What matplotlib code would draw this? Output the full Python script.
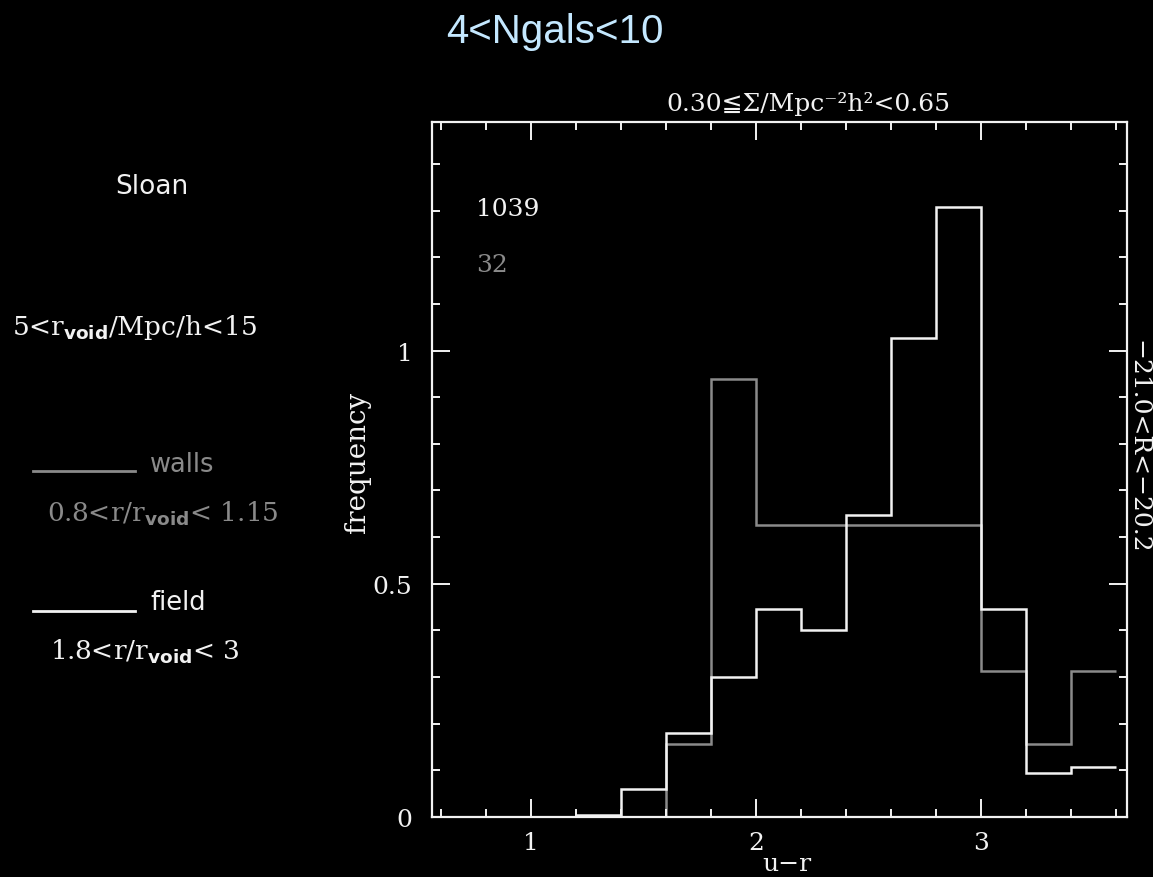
import matplotlib
matplotlib.use("Agg")
import matplotlib.pyplot as plt
from matplotlib.ticker import MultipleLocator

# ---- data ----
bin_edges = [1.2, 1.4, 1.6, 1.8, 2.0, 2.2, 2.4, 2.6, 2.8, 3.0, 3.2, 3.4, 3.6]
field_freq = [0.005, 0.06, 0.18, 0.30, 0.445, 0.40, 0.647, 1.026, 1.308, 0.445, 0.094, 0.107]
walls_freq = [0.0, 0.0, 0.156, 0.938, 0.625, 0.625, 0.625, 0.625, 0.625, 0.3125, 0.156, 0.3125]
x_ticks = [1, 2, 3]
x_tick_labels = ["1", "2", "3"]
y_ticks = [0, 0.5, 1]
y_tick_labels = ["0", "0.5", "1"]
n_field = "1039"
n_walls = "32"

W, H = 1153, 878
plt.rcParams['mathtext.fontset'] = 'custom'
plt.rcParams['mathtext.rm'] = 'DejaVu Serif'
plt.rcParams['mathtext.bf'] = 'DejaVu Sans:bold'

SERIF = ['DejaVu Serif', 'DejaVu Sans']
SANS = ['DejaVu Sans']
WHITE = '#f2f2f2'
GRAY = '#8a8a8a'
FS = 18

fig = plt.figure(figsize=(W / 100, H / 100), dpi=100, facecolor='black')

def fx(px):
    return px / W

def fy(py):
    return 1 - py / H

ax = fig.add_axes([fx(432), fy(818), fx(1127) - fx(432), fy(123) - fy(818)])
ax.set_facecolor('black')
ax.stairs(walls_freq, bin_edges, baseline=None, color=GRAY, lw=1.8)
ax.stairs(field_freq, bin_edges, baseline=None, color=WHITE, lw=1.8)
ax.set_xlim(0.56, 3.65)
ax.set_ylim(0, 1.49)

for s in ax.spines.values():
    s.set_color(WHITE)
    s.set_linewidth(1.6)

ax.set_xticks(x_ticks)
ax.set_xticklabels(x_tick_labels)
ax.set_yticks(y_ticks)
ax.set_yticklabels(y_tick_labels)
ax.xaxis.set_minor_locator(MultipleLocator(0.2))
ax.yaxis.set_minor_locator(MultipleLocator(0.1))
ax.tick_params(which='both', direction='in', top=True, right=True, colors=WHITE, width=1.4)
ax.tick_params(which='major', length=13)
ax.tick_params(which='minor', length=6)
ax.tick_params(axis='y', which='major', pad=14)
ax.tick_params(axis='x', which='major', pad=10)
for lab in ax.get_xticklabels() + ax.get_yticklabels():
    lab.set_family(SERIF)
    lab.set_fontsize(FS)
    lab.set_color(WHITE)

# axis labels
fig.text(fx(787), fy(865), 'u\u2212r', family=SERIF, fontsize=FS, color=WHITE, ha='center', va='center')
fig.text(fx(357), fy(462), 'frequency', family=SERIF, fontsize=20, color=WHITE, ha='center', va='center', rotation=90)
fig.text(fx(808), fy(104), '0.30\u2266\u03a3/Mpc\u207b\u00b2h\u00b2<0.65', family=SERIF, fontsize=FS,
         color=WHITE, ha='center', va='center')
fig.text(fx(1138), fy(447), '\u221221.0<R<\u221220.2', family=SERIF, fontsize=FS, color=WHITE,
         ha='center', va='center', rotation=-90)

# counts
fig.text(fx(476), fy(210), n_field, family=SERIF, fontsize=FS, color=WHITE, ha='left', va='center')
fig.text(fx(476), fy(265), n_walls, family=SERIF, fontsize=FS, color=GRAY, ha='left', va='center')

# title
fig.text(fx(555), fy(32), '4<Ngals<10', family=['Liberation Sans', 'DejaVu Sans'], fontsize=29,
         color='#c4e8ff', ha='center', va='center')

# left annotations
fig.text(fx(152), fy(187), 'Sloan', family=SANS, fontsize=19, color=WHITE, ha='center', va='center')
fig.text(fx(12), fy(328), r'5<$\mathrm{r}_{\mathbf{void}}$/Mpc/h<15', family=SERIF, fontsize=19,
         color=WHITE, ha='left', va='center')

fig.add_artist(plt.Line2D([fx(33), fx(135)], [fy(472), fy(472)], color=GRAY, lw=2,
                          transform=fig.transFigure))
fig.text(fx(150), fy(465), 'walls', family=SANS, fontsize=18.5, color=GRAY, ha='left', va='center')
fig.text(fx(47), fy(514), r'0.8<r/$\mathrm{r}_{\mathbf{void}}$< 1.15', family=SERIF, fontsize=19,
         color=GRAY, ha='left', va='center')

fig.add_artist(plt.Line2D([fx(33), fx(135)], [fy(612), fy(612)], color=WHITE, lw=2,
                          transform=fig.transFigure))
fig.text(fx(150), fy(603), 'field', family=SANS, fontsize=18.5, color=WHITE, ha='left', va='center')
fig.text(fx(50), fy(652), r'1.8<r/$\mathrm{r}_{\mathbf{void}}$< 3', family=SERIF, fontsize=19,
         color=WHITE, ha='left', va='center')

fig.savefig('out.png', dpi=100, facecolor='black')
